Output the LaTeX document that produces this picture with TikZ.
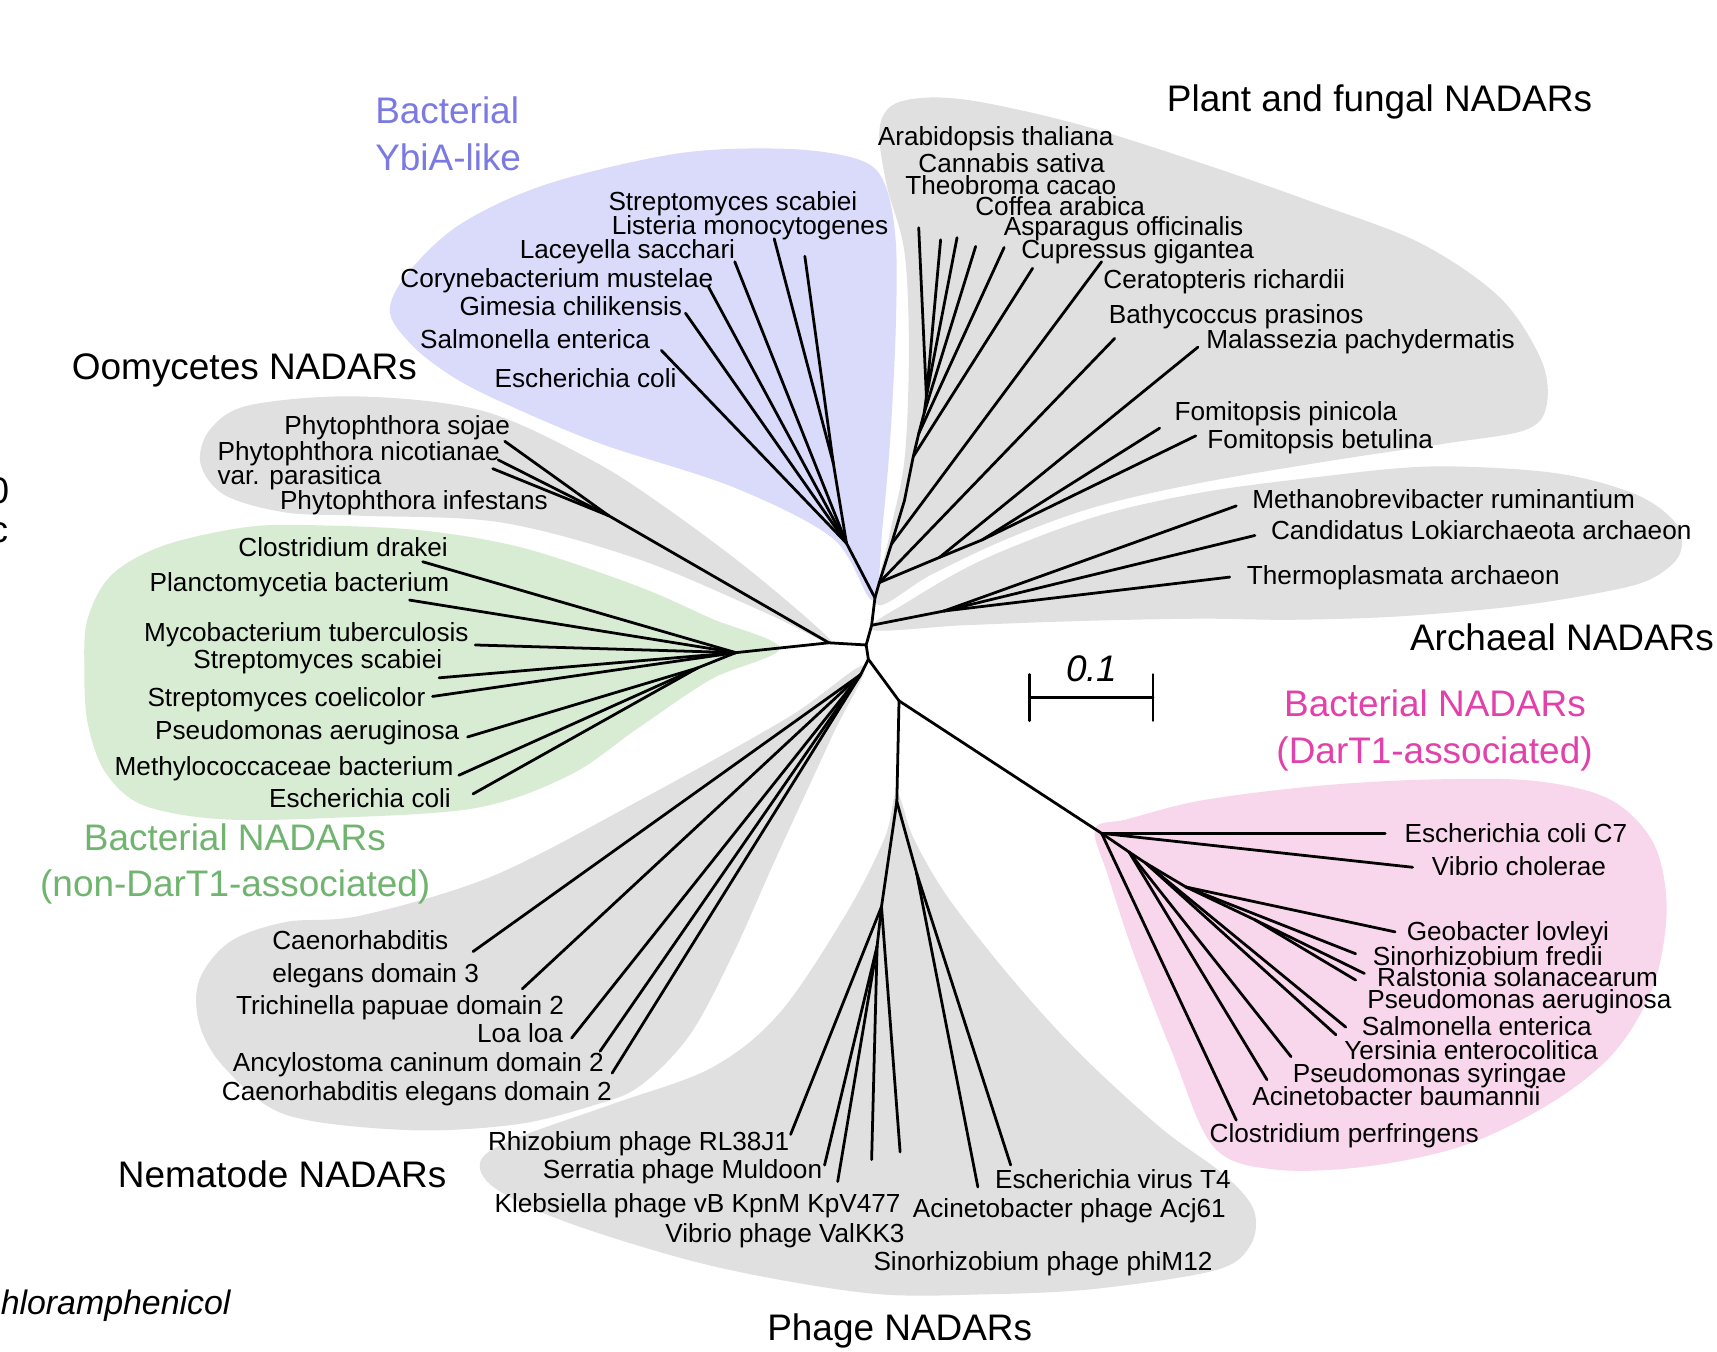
\documentclass[tikz,border=0pt]{standalone}
\usepackage{fontspec}
\setmainfont{Liberation Sans}
\definecolor{grayfill}{RGB}{224,224,224}
\definecolor{ybfill}{RGB}{218,218,250}
\definecolor{gnfill}{RGB}{216,236,212}
\definecolor{pkfill}{RGB}{248,214,236}
\definecolor{ybtext}{RGB}{122,122,226}
\definecolor{gntext}{RGB}{112,180,112}
\definecolor{pktext}{RGB}{226,64,170}
\begin{document}
\begin{tikzpicture}[x=0.1mm,y=-0.1mm,
  lab/.style={font=\fontsize{6.8}{8}\selectfont, inner sep=0pt, anchor=west, text height=1.4ex, text depth=0.6ex},
  ttl/.style={font=\fontsize{9.6}{11}\selectfont, inner sep=0pt, anchor=west, text height=1.6ex, text depth=0.4ex},
  br/.style={line width=0.72pt, line cap=round, line join=round},
  region/.style={smooth cycle, tension=0.55}]
\fill[white] (0,0) rectangle (1568,1234);
\useasboundingbox (0,0) rectangle (1568,1234);

% ---------- shaded clades ----------
\fill[ybfill] plot[region] coordinates {(797,548) (806,480) (813,400) (818,300) (818,220) (808,168) (785,146) (720,136) (620,140) (500,168) (420,205) (372,250) (356,285) (378,317) (415,345) (460,368) (548,405) (670,445) (761,492)};
\fill[grayfill] plot[region] coordinates {(801,552) (812,490) (826,420) (830,320) (826,230) (810,170) (803,120) (815,96) (850,89) (900,94) (990,115) (1100,150) (1200,185) (1297,222) (1370,272) (1408,330) (1412,372) (1392,393) (1320,405) (1220,420) (1096,441) (1000,463) (920,492) (850,525)};
\fill[grayfill] plot[region] coordinates {(796,575) (830,549) (900,510) (1000,472) (1096,450) (1200,436) (1307,426) (1420,432) (1495,452) (1532,480) (1533,508) (1505,530) (1457,542) (1380,554) (1276,563) (1180,566) (1096,565) (990,567) (880,571)};
\fill[grayfill] plot[region] coordinates {(761,588) (690,525) (610,465) (540,420) (440,375) (326,362) (228,370) (192,392) (183,423) (205,452) (261,468) (330,471) (457,477) (584,511) (700,560)};
\fill[gnfill] plot[region] coordinates {(712,592) (650,565) (584,536) (480,501) (391,485) (300,480) (228,481) (150,498) (102,525) (80,565) (77,610) (80,660) (96,705) (130,735) (200,748) (300,747) (434,738) (520,708) (584,664) (650,620)};
\fill[grayfill] plot[region] coordinates {(789,608) (720,655) (584,731) (450,800) (330,836) (261,842) (210,860) (182,895) (182,935) (205,975) (261,1018) (372,1032) (470,1027) (540,1010) (584,992) (630,945) (670,870) (708,785) (760,672)};
\fill[grayfill] plot[region] coordinates {(819,724) (834,765) (866,820) (925,895) (986,962) (1060,1030) (1118,1073) (1145,1105) (1142,1137) (1110,1160) (1000,1177) (900,1182) (793,1181) (650,1156) (520,1117) (452,1085) (439,1060) (470,1040) (560,1008) (650,975) (712,925) (773,834) (808,765)};
\fill[pkfill] plot[region] coordinates {(1000,757) (1030,748) (1097,731) (1200,718) (1300,712) (1400,713) (1470,730) (1510,770) (1522,830) (1510,900) (1475,960) (1420,1005) (1340,1045) (1250,1065) (1164,1068) (1108,1047) (1070,960) (1035,870) (1012,800)};

% ---------- internal nodes ----------
\coordinate (A) at (799,546);
\coordinate (B) at (796,571);
\coordinate (C) at (791,589);
\coordinate (D) at (793,602);
\coordinate (E) at (821,640);
\coordinate (L) at (757,587);
\coordinate (G) at (672,596);
\coordinate (G2) at (637,610);
\coordinate (O) at (556,471);
\coordinate (Y) at (773,496);
\coordinate (Y1) at (761,423);
\coordinate (PB) at (803,532);
\coordinate (P0) at (814,497);
\coordinate (P1) at (826,457);
\coordinate (P2) at (834,417);
\coordinate (P3) at (839,396);
\coordinate (P4) at (844,377);
\coordinate (P5) at (846,362);
\coordinate (M) at (858,509);
\coordinate (F) at (897,493);
\coordinate (Ar) at (862,558);
\coordinate (N1) at (786,616);
\coordinate (Ph) at (819,732);
\coordinate (Ph1) at (805,828);
\coordinate (Ph2) at (801,864);
\coordinate (Ph3) at (837,797);
\coordinate (Pk) at (1006,761);
\coordinate (Pk1) at (1031,778);
\coordinate (Pk4) at (1046,788);
\coordinate (Pk2) at (1083,810);
\coordinate (Pk3) at (1146,840);

% ---------- leaves ----------
\coordinate (ybS) at (604,320);
\coordinate (ybG) at (626,286);
\coordinate (ybC) at (647,262);
\coordinate (ybL) at (671,239);
\coordinate (ybLi) at (707,218);
\coordinate (ybSt) at (735,234);
\coordinate (plA) at (839,208);
\coordinate (plCa) at (859,219);
\coordinate (plT) at (874,217);
\coordinate (plCo) at (891,225);
\coordinate (plAs) at (917,226);
\coordinate (plCu) at (943,245);
\coordinate (plCe) at (1006,239);
\coordinate (plB) at (1018,309);
\coordinate (plM) at (1094,317);
\coordinate (plFp) at (1059,391);
\coordinate (plFb) at (1092,398);
\coordinate (arM) at (1129,462);
\coordinate (arC) at (1146,489);
\coordinate (arT) at (1123,527);
\coordinate (ooS) at (461,403);
\coordinate (ooN) at (455,420);
\coordinate (ooI) at (450,428);
\coordinate (gnCd) at (386,513);
\coordinate (gnPl) at (374,548);
\coordinate (gnMy) at (434,589);
\coordinate (gnSs) at (401,619);
\coordinate (gnSc) at (395,636);
\coordinate (gnPa) at (427,673);
\coordinate (gnMe) at (419,708);
\coordinate (gnEc) at (432,725);
\coordinate (nmC3) at (432,869);
\coordinate (nmT) at (477,903);
\coordinate (nmL) at (522,948);
\coordinate (nmA) at (548,960);
\coordinate (nmC2) at (559,980);
\coordinate (phR) at (722,1036);
\coordinate (phS) at (753,1064);
\coordinate (phK) at (765,1079);
\coordinate (phV) at (796,1059);
\coordinate (phX) at (822,1052);
\coordinate (phA) at (893,1084);
\coordinate (phT) at (923,1064);
\coordinate (pkEc) at (1265,761);
\coordinate (pkV) at (1290,792);
\coordinate (pkG) at (1274,851);
\coordinate (pkS) at (1238,871);
\coordinate (pkR) at (1246,889);
\coordinate (pkP) at (1238,895);
\coordinate (pkSa) at (1229,938);
\coordinate (pkY) at (1220,945);
\coordinate (pkPs) at (1179,965);
\coordinate (pkAc) at (1157,986);
\coordinate (pkCl) at (1129,1023);

% ---------- branches ----------
\draw[br] (Y) -- (A) -- (B) -- (C) -- (D) -- (E);
\draw[br] (PB) -- (A);
\draw[br] (B) -- (Ar);
\draw[br] (C) -- (L);
\draw[br] (L) -- (G);
\draw[br] (L) -- (O);
\draw[br] (D) -- (N1);
\draw[br] (E) -- (Ph);
\draw[br] (E) -- (Pk);
% YbiA
\foreach \t in {ybS,ybG,ybC,ybL,Y1} \draw[br] (Y) -- (\t);
\foreach \t in {ybLi,ybSt} \draw[br] (Y1) -- (\t);
% plant and fungal
\draw[br] (PB) -- (P0) -- (P1) -- (P2) -- (P3) -- (P4) -- (P5);
\foreach \t in {plA,plCa,plT} \draw[br] (P5) -- (\t);
\draw[br] (P4) -- (plCo);
\draw[br] (P3) -- (plAs);
\draw[br] (P2) -- (plCu);
\draw[br] (P0) -- (plCe);
\draw[br] (PB) -- (plB);
\draw[br] (PB) -- (M) -- (F);
\draw[br] (M) -- (plM);
\draw[br] (F) -- (plFp);
\draw[br] (F) -- (plFb);
% archaeal
\foreach \t in {arM,arC,arT} \draw[br] (Ar) -- (\t);
% oomycetes
\foreach \t in {ooS,ooN,ooI} \draw[br] (O) -- (\t);
% bacterial non-DarT1
\foreach \t in {gnCd,gnPl,gnMy,gnSs,gnSc,G2} \draw[br] (G) -- (\t);
\foreach \t in {gnPa,gnMe,gnEc} \draw[br] (G2) -- (\t);
% nematode
\foreach \t in {nmC3,nmT,nmL,nmA,nmC2} \draw[br] (N1) -- (\t);
% phage
\draw[br] (Ph) -- (Ph1) -- (Ph2);
\draw[br] (Ph) -- (Ph3);
\foreach \t in {phR,phX} \draw[br] (Ph1) -- (\t);
\foreach \t in {phS,phK,phV} \draw[br] (Ph2) -- (\t);
\foreach \t in {phA,phT} \draw[br] (Ph3) -- (\t);
% bacterial DarT1
\foreach \t in {pkEc,pkV,pkCl,Pk1} \draw[br] (Pk) -- (\t);
\foreach \t in {pkAc,pkPs,Pk4} \draw[br] (Pk1) -- (\t);
\foreach \t in {pkSa,pkY,Pk2} \draw[br] (Pk4) -- (\t);
\foreach \t in {pkG,pkS,Pk3} \draw[br] (Pk2) -- (\t);
\foreach \t in {pkR,pkP} \draw[br] (Pk3) -- (\t);

% ---------- scale bar ----------
\coordinate (sbL) at (940,637);
\coordinate (sbR) at (1053,637);
\draw[br] (sbL) -- (sbR);
\draw[br] ([yshift=-6]sbL) -- ([yshift=6]sbL);
\draw[br] ([yshift=-6]sbR) -- ([yshift=6]sbR);
\node[font=\fontsize{9.6}{11}\selectfont\itshape, inner sep=0pt] (sbT) at (997,611) {0.1};

% ---------- group titles ----------
\node[ttl, text=ybtext] (tYb1) at (342,102) {Bacterial};
\node[ttl, text=ybtext] (tYb2) at (342,145) {YbiA-like};
\node[ttl] (tPl) at (1065,91) {Plant and fungal NADARs};
\node[ttl] (tAr) at (1287,583) {Archaeal NADARs};
\node[ttl] (tOo) at (65,335) {Oomycetes NADARs};
\node[ttl, text=gntext] (tGn1) at (76,766) {Bacterial NADARs};
\node[ttl, text=gntext] (tGn2) at (36,808) {(non-DarT1-associated)};
\node[ttl] (tNm) at (107,1073) {Nematode NADARs};
\node[ttl] (tPh) at (700,1213) {Phage NADARs};
\node[ttl, text=pktext] (tPk1) at (1172,643) {Bacterial NADARs};
\node[ttl, text=pktext] (tPk2) at (1165,686) {(DarT1-associated)};

% cut-off text at the left border
\node[ttl, anchor=east] (cut1) at (9,449) {0};
\node[ttl, anchor=east] (cut2) at (8,484) {c};
\node[font=\fontsize{8.8}{10}\selectfont\itshape, inner sep=0pt, anchor=west] (cut3) at (0,1192) {hloramphenicol};

% ---------- leaf labels ----------
% YbiA
\node[lab] (lyb1) at (555,185) {Streptomyces scabiei};
\node[lab] (lyb2) at (558,207) {Listeria monocytogenes};
\node[lab] (lyb3) at (474,229) {Laceyella sacchari};
\node[lab] (lyb4) at (365,255) {Corynebacterium mustelae};
\node[lab] (lyb5) at (419,281) {Gimesia chilikensis};
\node[lab] (lyb6) at (383,311) {Salmonella enterica};
\node[lab] (lyb7) at (451,346) {Escherichia coli};
% plant and fungal
\node[lab] (lpl1) at (801,125) {Arabidopsis thaliana};
\node[lab] (lpl2) at (838,150) {Cannabis sativa};
\node[lab] (lpl3) at (826,170) {Theobroma cacao};
\node[lab] (lpl4) at (890,189) {Coffea arabica};
\node[lab] (lpl5) at (916,208) {Asparagus officinalis};
\node[lab] (lpl6) at (932,229) {Cupressus gigantea};
\node[lab] (lpl7) at (1007,256) {Ceratopteris richardii};
\node[lab] (lpl8) at (1012,288) {Bathycoccus prasinos};
\node[lab] (lpl9) at (1101,311) {Malassezia pachydermatis};
\node[lab] (lpl10) at (1072,377) {Fomitopsis pinicola};
\node[lab] (lpl11) at (1102,402) {Fomitopsis betulina};
% archaeal
\node[lab] (lar1) at (1143,457) {Methanobrevibacter ruminantium};
\node[lab] (lar2) at (1160,485) {Candidatus Lokiarchaeota archaeon};
\node[lab] (lar3) at (1138,526) {Thermoplasmata archaeon};
% oomycetes
\node[lab] (loo1) at (259,389) {Phytophthora sojae};
\node[lab] (loo2) at (198,413) {Phytophthora nicotianae};
\node[lab] (loo3) at (198,435) {var. parasitica};
\node[lab] (loo4) at (255,458) {Phytophthora infestans};
% bacterial non-DarT1
\node[lab] (lgn1) at (217,501) {Clostridium drakei};
\node[lab] (lgn2) at (136,533) {Planctomycetia bacterium};
\node[lab] (lgn3) at (131,578) {Mycobacterium tuberculosis};
\node[lab] (lgn4) at (176,603) {Streptomyces scabiei};
\node[lab] (lgn5) at (134,638) {Streptomyces coelicolor};
\node[lab] (lgn6) at (141,668) {Pseudomonas aeruginosa};
\node[lab] (lgn7) at (104,701) {Methylococcaceae bacterium};
\node[lab] (lgn8) at (245,730) {Escherichia coli};
% nematode
\node[lab] (lnm1) at (248,860) {Caenorhabditis};
\node[lab] (lnm2) at (248,890) {elegans domain 3};
\node[lab] (lnm3) at (215,919) {Trichinella papuae domain 2};
\node[lab] (lnm4) at (435,945) {Loa loa};
\node[lab] (lnm5) at (212,971) {Ancylostoma caninum domain 2};
\node[lab] (lnm6) at (202,998) {Caenorhabditis elegans domain 2};
% phage
\node[lab] (lph1) at (445,1043) {Rhizobium phage RL38J1};
\node[lab] (lph2) at (495,1069) {Serratia phage Muldoon};
\node[lab] (lph3) at (451,1100) {Klebsiella phage vB KpnM KpV477};
\node[lab] (lph4) at (607,1127) {Vibrio phage ValKK3};
\node[lab] (lph5) at (908,1078) {Escherichia virus T4};
\node[lab] (lph6) at (833,1104) {Acinetobacter phage Acj61};
\node[lab] (lph7) at (797,1153) {Sinorhizobium phage phiM12};
% bacterial DarT1
\node[lab] (lpk1) at (1282,762) {Escherichia coli C7};
\node[lab] (lpk2) at (1307,792) {Vibrio cholerae};
\node[lab] (lpk3) at (1284,851) {Geobacter lovleyi};
\node[lab] (lpk4) at (1253,874) {Sinorhizobium fredii};
\node[lab] (lpk5) at (1257,893) {Ralstonia solanacearum};
\node[lab] (lpk6) at (1248,914) {Pseudomonas aeruginosa};
\node[lab] (lpk7) at (1243,938) {Salmonella enterica};
\node[lab] (lpk8) at (1227,960) {Yersinia enterocolitica};
\node[lab] (lpk9) at (1180,981) {Pseudomonas syringae};
\node[lab] (lpk10) at (1143,1002) {Acinetobacter baumannii};
\node[lab] (lpk11) at (1104,1036) {Clostridium perfringens};
\end{tikzpicture}
\end{document}
